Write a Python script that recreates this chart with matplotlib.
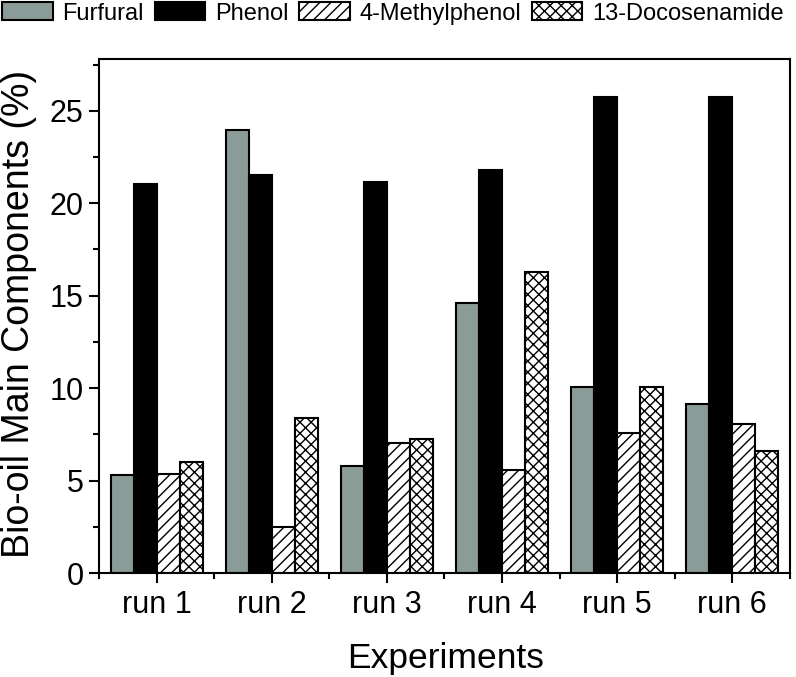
import matplotlib.pyplot as plt
import numpy as np

plt.rcParams['font.family'] = ['Liberation Sans', 'DejaVu Sans']
plt.rcParams['hatch.linewidth'] = 1.0

runs = ["run 1", "run 2", "run 3", "run 4", "run 5", "run 6"]
furfural = [5.32, 23.97, 5.77, 14.6, 10.06, 9.16]
phenol = [21.03, 21.52, 21.16, 21.8, 25.77, 25.74]
methylphenol = [5.37, 2.47, 7.02, 5.59, 7.59, 8.05]
docosenamide = [5.99, 8.39, 7.27, 16.3, 10.06, 6.6]

series = [
    ("Furfural", furfural, "#8b9b97", None),
    ("Phenol", phenol, "black", None),
    ("4-Methylphenol", methylphenol, "white", "///"),
    ("13-Docosenamide", docosenamide, "white", "xxx"),
]

fig = plt.figure(figsize=(7.96, 6.77), dpi=100)
ax = fig.add_axes([0.1244, 0.1536, 0.868, 0.7593])

x = np.arange(1, len(runs) + 1)
w = 0.2
handles = []
for i, (name, vals, col, hatch) in enumerate(series):
    b = ax.bar(x + (i - 1.5) * w, vals, w, color=col, edgecolor="black",
               linewidth=1.5, hatch=hatch, label=name)
    handles.append(b)

ax.set_xlim(0.5, 6.5)
ax.set_ylim(0, 27.8)
ax.set_xticks(x)
ax.set_xticklabels(runs)
ax.set_xticks(np.arange(0.5, 7, 1), minor=True)
ax.set_yticks(np.arange(0, 26, 5))
ax.set_yticks(np.arange(2.5, 28, 5), minor=True)
ax.tick_params(axis="both", which="major", direction="out", length=7, width=1.5,
               labelsize=22, top=False, right=False)
ax.tick_params(axis="both", which="minor", direction="out", length=4.5, width=1.5,
               top=False, right=False)
ax.tick_params(axis="x", which="major", pad=5)
ax.tick_params(axis="y", which="major", pad=4)
for s in ax.spines.values():
    s.set_linewidth(1.5)

fig.text(0.5597, 0.014, "Experiments", fontsize=25.5, ha="center", va="baseline")
fig.text(0.0235, 0.536, "Bio-oil Main Components (%)", fontsize=27,
         rotation=90, ha="center", va="center")

fig.legend(handles=handles, loc="upper left", bbox_to_anchor=(0.0, 1.0), ncol=4,
           frameon=False, fontsize=17, handlelength=2.15, handleheight=0.8,
           handletextpad=0.4, columnspacing=0.45, borderaxespad=0.0,
           borderpad=0.1)

fig.savefig("out.png", dpi=100)
